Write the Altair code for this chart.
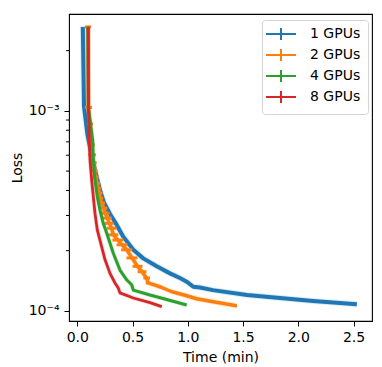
import altair as alt
import pandas as pd

series_names = ["1 GPUs", "2 GPUs", "4 GPUs", "8 GPUs"]
series_colors = ["#1f77b4", "#ff7f0e", "#2ca02c", "#d62728"]

# 1 GPU
t1 = [0.050, 0.061, 0.092, 0.124, 0.160, 0.205, 0.242, 0.296, 0.357, 0.416, 0.507,
      0.597, 0.719, 0.839, 0.929, 0.990, 1.050, 1.110, 1.228, 1.536, 1.834, 2.133, 2.530]
l1 = [2.63e-3, 1.05e-3, 7.59e-4, 6.24e-4, 5.07e-4, 4.03e-4, 3.47e-4, 3.05e-4, 2.69e-4,
      2.35e-4, 2.02e-4, 1.83e-4, 1.67e-4, 1.54e-4, 1.46e-4, 1.40e-4, 1.32e-4, 1.31e-4,
      1.27e-4, 1.20e-4, 1.16e-4, 1.12e-4, 1.08e-4]

# 2 GPUs (with time spread)
t2 = [0.097, 0.101, 0.115, 0.124, 0.129, 0.135, 0.145, 0.156, 0.165, 0.178, 0.187,
      0.199, 0.205, 0.221, 0.239, 0.251, 0.273, 0.289, 0.311, 0.326, 0.368, 0.405,
      0.447, 0.495, 0.545, 0.586, 0.628, 0.640, 0.748, 0.850, 0.990, 1.080, 1.230, 1.440]
l2 = [2.63e-3, 1.04e-3, 8.60e-4, 7.67e-4, 6.76e-4, 6.03e-4, 5.51e-4, 5.03e-4, 4.66e-4,
      4.35e-4, 4.11e-4, 3.88e-4, 3.66e-4, 3.46e-4, 3.26e-4, 3.08e-4, 2.91e-4, 2.74e-4,
      2.59e-4, 2.40e-4, 2.26e-4, 2.14e-4, 2.02e-4, 1.84e-4, 1.67e-4, 1.57e-4, 1.46e-4,
      1.38e-4, 1.32e-4, 1.25e-4, 1.19e-4, 1.15e-4, 1.11e-4, 1.06e-4]
e2 = [0.027, 0.032, 0.027, 0.018, 0.030, 0.035, 0.030, 0.027, 0.027, 0.027, 0.027,
      0.030, 0.030, 0.030, 0.033, 0.040, 0.040, 0.040, 0.045, 0.045, 0.050, 0.050,
      0.050, 0.050, 0.045, 0.040, 0.030, 0.020, 0.010, 0.005, 0.005, 0.005, 0.005, 0.005]

# 4 GPUs
t4 = [0.097, 0.101, 0.139, 0.145, 0.160, 0.181, 0.205, 0.235, 0.266, 0.326, 0.386,
      0.447, 0.492, 0.507, 0.658, 0.809, 0.990]
l4 = [2.63e-3, 1.03e-3, 7.16e-4, 5.69e-4, 4.52e-4, 3.73e-4, 3.20e-4, 2.74e-4, 2.45e-4,
      1.94e-4, 1.60e-4, 1.43e-4, 1.35e-4, 1.27e-4, 1.20e-4, 1.14e-4, 1.07e-4]

# 8 GPUs
t8 = [0.0995, 0.101, 0.109, 0.115, 0.130, 0.145, 0.160, 0.181, 0.205, 0.251, 0.296,
      0.341, 0.371, 0.386, 0.507, 0.658, 0.764]
l8 = [2.63e-3, 1.03e-3, 7.16e-4, 5.69e-4, 4.52e-4, 3.73e-4, 3.08e-4, 2.54e-4, 2.26e-4,
      1.80e-4, 1.54e-4, 1.38e-4, 1.30e-4, 1.23e-4, 1.16e-4, 1.10e-4, 1.05e-4]

x_ticks = [0.0, 0.5, 1.0, 1.5, 2.0, 2.5]
y_major = [1e-4, 1e-3]
y_minor = [2e-4, 3e-4, 4e-4, 5e-4, 6e-4, 7e-4, 8e-4, 9e-4, 2e-3]
x_domain = [-0.075, 2.667]
y_domain = [8.9e-5, 3.05e-3]


def frame(name, ts, ls, es=None):
    rows = []
    for i, (t, l) in enumerate(zip(ts, ls)):
        e = es[i] if es else 0.0
        rows.append({"series": name, "t": t, "loss": l, "lo": t - e, "hi": t + e, "i": i})
    return pd.DataFrame(rows)


d1 = frame(series_names[0], t1, l1)
d2 = frame(series_names[1], t2, l2, e2)
d4 = frame(series_names[2], t4, l4)
d8 = frame(series_names[3], t8, l8)

FONT = "DejaVu Sans"
xs = alt.Scale(domain=x_domain, nice=False, zero=False)
ys = alt.Scale(type="log", domain=y_domain, nice=False)
x_axis = alt.Axis(values=x_ticks, format=".1f", grid=False, domain=False, tickSize=5,
                  tickColor="black", labelColor="black", labelFontSize=14, labelFont=FONT,
                  labelPadding=4, titleFont=FONT, titleFontSize=14, titleFontWeight="normal",
                  titleColor="black", titleY=29, titleBaseline="top")
y_axis = alt.Axis(values=y_major, grid=False, domain=False, tickSize=5, tickColor="black",
                  labelColor="black", labelFontSize=14, labelFont=FONT, labelPadding=5,
                  labelExpr="datum.value < 5e-4 ? '10\u207b\u2074' : '10\u207b\u00b3'",
                  titleFont=FONT, titleFontSize=14, titleFontWeight="normal",
                  titleColor="black", titleX=-52, titleBaseline="middle")

color = alt.Color("series:N",
                  scale=alt.Scale(domain=series_names, range=series_colors),
                  legend=alt.Legend(title=None, orient="none", legendX=193, legendY=6,
                                    symbolType="M-3,0H3M0,-1.2V1.2", symbolSize=100,
                                    symbolStrokeWidth=2, symbolOffset=5, symbolOpacity=1,
                                    labelFont=FONT, labelFontSize=14, labelColor="black",
                                    labelOffset=22, padding=7, rowPadding=1,
                                    strokeColor="#d4d4d4", fillColor="white",
                                    cornerRadius=3))

X = alt.X("t:Q", scale=xs, axis=x_axis, title="Time (min)")
Y = alt.Y("loss:Q", scale=ys, axis=y_axis, title="Loss")


def line(df, w):
    return alt.Chart(df).mark_line(strokeWidth=w, strokeJoin="round").encode(
        x=X, y=Y, color=color, order="i:Q")


def halo(df, w):
    return alt.Chart(df).mark_line(strokeWidth=w, opacity=0.15).encode(
        x=X, y=Y, color=color, order="i:Q")


err2 = alt.Chart(d2).mark_rule(strokeWidth=3).encode(
    x=alt.X("lo:Q", scale=xs, axis=x_axis, title="Time (min)"),
    x2="hi:Q", y=Y, color=color)

minor = alt.Chart(pd.DataFrame({"loss": y_minor})).mark_rule(
    color="black", strokeWidth=1).encode(
    y=Y, x=alt.value(-3), x2=alt.value(0))

chart = alt.layer(
    halo(d1, 6), line(d1, 4),
    halo(d2, 5.5), line(d2, 3.5), err2,
    halo(d4, 4.5), line(d4, 3),
    halo(d8, 4.5), line(d8, 2.8),
    minor
).properties(
    width=303, height=307,
    autosize=alt.AutoSizeParams(type="none"),
    padding={"left": 61, "top": 6, "right": 2, "bottom": 45},
).configure_view(stroke="black", strokeWidth=1.1)

chart.save("out.html", embed_options={"renderer": "svg", "actions": False})
